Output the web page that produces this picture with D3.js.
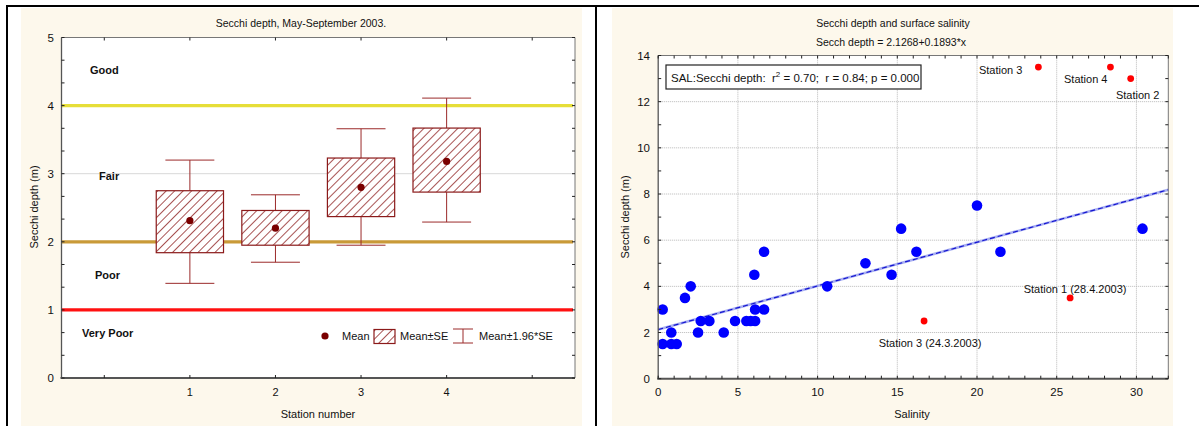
<!DOCTYPE html>
<html><head><meta charset="utf-8">
<script src="https://cdn.jsdelivr.net/npm/d3@7"></script>
<style>
html,body{margin:0;padding:0;background:#fff;}
text{font-family:"Liberation Sans",Arial,sans-serif;fill:#111;white-space:pre;}
</style></head>
<body>
<script>
// ---------- data: left chart ----------
const stations = [1, 2, 3, 4];
const means   = [2.31, 2.20, 2.80, 3.18];
const seLow   = [1.84, 1.95, 2.37, 2.73];
const seHigh  = [2.75, 2.46, 3.23, 3.67];
const ciLow   = [1.39, 1.70, 1.95, 2.29];
const ciHigh  = [3.20, 2.69, 3.66, 4.11];
const thresholdValues = [4, 2, 1];
const qualityLabels = ["Good", "Fair", "Poor", "Very Poor"];
const leftYTicks = [0, 1, 2, 3, 4, 5];
const leftXTickLabels = ["1", "2", "3", "4"];
const legendLabels = ["Mean", "Mean±SE", "Mean±1.96*SE"];

// ---------- data: right chart ----------
const salinity = [0.28,0.28,0.82,0.82,1.16,1.68,2.04,2.5,2.67,3.21,4.11,4.82,5.53,5.8,6.08,6.08,6.64,6.03,6.64,10.6,13.0,14.64,15.24,16.2,20.0,21.47,30.38];
const secchi   = [1.5,3.0,2.0,1.5,1.5,3.5,4.0,2.0,2.5,2.5,2.0,2.5,2.5,2.5,2.5,3.0,3.0,4.5,5.5,4.0,5.0,4.5,6.5,5.5,7.5,5.5,6.5];
const outlierSalinity = [23.85, 28.37, 29.64, 25.84, 16.68];
const outlierSecchi   = [13.5, 13.5, 13.0, 3.5, 2.5];
const outlierLabels   = ["Station 3", "Station 4", "Station 2", "Station 1 (28.4.2003)", "Station 3 (24.3.2003)"];
const regIntercept = 2.1268, regSlope = 0.1893;
const rightXTicks = [0, 5, 10, 15, 20, 25, 30];
const rightYTicks = [0, 2, 4, 6, 8, 10, 12, 14];

// ---------- layout / styles ----------
const W = 1199, H = 426;
const cream = "#fdf8ec";
const boxColor = "#8b1a1a";
const thresholdColors = ["#e6de38", "#c99a38", "#ff1010"];
const qualityPos = [4.47, 2.91, 1.45, 0.60];
const qualityX = [90, 99, 95, 82];
const outlierOffsets = [[-16, 7, "end"], [-3, 16, "end"], [7, 20, "middle"], [5, -5, "middle"], [6, 26, "middle"]];

const svg = d3.select("body").append("svg").attr("width", W).attr("height", H);
svg.append("rect").attr("width", W).attr("height", H).attr("fill", "#fff");

// panels
svg.append("rect").attr("x", 21).attr("y", 8).attr("width", 561).attr("height", H - 8).attr("fill", cream);
svg.append("rect").attr("x", 612).attr("y", 8).attr("width", 561).attr("height", H - 8).attr("fill", cream);
// outer borders
svg.append("line").attr("x1", 6).attr("x2", W).attr("y1", 6).attr("y2", 6).attr("stroke", "#000").attr("stroke-width", 2);
svg.append("line").attr("x1", 7).attr("x2", 7).attr("y1", 5).attr("y2", H).attr("stroke", "#000").attr("stroke-width", 2);
svg.append("line").attr("x1", 596).attr("x2", 596).attr("y1", 5).attr("y2", H).attr("stroke", "#000").attr("stroke-width", 2);

const defs = svg.append("defs");
const pat = defs.append("pattern").attr("id", "hatch").attr("patternUnits", "userSpaceOnUse")
  .attr("width", 6).attr("height", 6).attr("patternTransform", "rotate(45)");
pat.append("rect").attr("width", 6).attr("height", 6).attr("fill", "#fff");
pat.append("line").attr("x1", 0).attr("y1", 0).attr("x2", 0).attr("y2", 6).attr("stroke", boxColor).attr("stroke-width", 1.5);

function frame(g, x0, x1, y0, y1) {
  g.append("rect").attr("x", x0).attr("y", y1).attr("width", x1 - x0).attr("height", y0 - y1).attr("fill", "#fff");
}
function border(g, x0, x1, y0, y1) {
  g.append("line").attr("x1", x0).attr("x2", x1).attr("y1", y1).attr("y2", y1).attr("stroke", "#777").attr("stroke-width", 1);
  g.append("line").attr("x1", x1).attr("x2", x1).attr("y1", y1).attr("y2", y0).attr("stroke", "#777").attr("stroke-width", 1);
  g.append("line").attr("x1", x0).attr("x2", x0).attr("y1", y1).attr("y2", y0).attr("stroke", "#555").attr("stroke-width", 1.3);
  g.append("line").attr("x1", x0 - 1).attr("x2", x1).attr("y1", y0).attr("y2", y0).attr("stroke", "#555").attr("stroke-width", 2);
}
function ticks(g, xs, ys, xVals, yVals, len) {
  const [x0, x1] = xs.range(), [y0, y1] = ys.range();
  xVals.forEach(v => {
    g.append("line").attr("x1", xs(v)).attr("x2", xs(v)).attr("y1", y0).attr("y2", y0 - len).attr("stroke", "#222");
    g.append("line").attr("x1", xs(v)).attr("x2", xs(v)).attr("y1", y1).attr("y2", y1 + len).attr("stroke", "#222");
  });
  yVals.forEach(v => {
    g.append("line").attr("x1", x0).attr("x2", x0 + len).attr("y1", ys(v)).attr("y2", ys(v)).attr("stroke", "#222");
    g.append("line").attr("x1", x1).attr("x2", x1 - len).attr("y1", ys(v)).attr("y2", ys(v)).attr("stroke", "#222");
  });
}

// ================= LEFT CHART =================
const L = svg.append("g");
const xL = d3.scaleLinear().domain([-0.5, 5.5]).range([61.5, 575]);
const yL = d3.scaleLinear().domain([0, 5]).range([378, 37.5]);
frame(L, 61.5, 575, 378, 37.5);
leftYTicks.forEach(v => L.append("line").attr("x1", xL(-0.5)).attr("x2", xL(5.5)).attr("y1", yL(v)).attr("y2", yL(v))
  .attr("stroke", "#b0b0b0").attr("stroke-dasharray", "1,1"));
thresholdValues.forEach((v, i) => L.append("line").attr("x1", xL(-0.5)).attr("x2", xL(5.5) - 2).attr("y1", yL(v)).attr("y2", yL(v))
  .attr("stroke", thresholdColors[i]).attr("stroke-width", 3.2));
qualityLabels.forEach((t, i) => L.append("text").attr("x", qualityX[i]).attr("y", yL(qualityPos[i])).attr("font-size", 11).attr("font-weight", "bold").text(t));

const half = 0.393, cap = 0.286;
stations.forEach((s, i) => {
  const g = L.append("g");
  const wc = "#9b2a2a";
  g.append("line").attr("x1", xL(s)).attr("x2", xL(s)).attr("y1", yL(ciHigh[i])).attr("y2", yL(seHigh[i])).attr("stroke", wc);
  g.append("line").attr("x1", xL(s)).attr("x2", xL(s)).attr("y1", yL(seLow[i])).attr("y2", yL(ciLow[i])).attr("stroke", wc);
  g.append("line").attr("x1", xL(s - cap)).attr("x2", xL(s + cap)).attr("y1", yL(ciHigh[i])).attr("y2", yL(ciHigh[i])).attr("stroke", wc);
  g.append("line").attr("x1", xL(s - cap)).attr("x2", xL(s + cap)).attr("y1", yL(ciLow[i])).attr("y2", yL(ciLow[i])).attr("stroke", wc);
  g.append("rect").attr("x", xL(s - half)).attr("y", yL(seHigh[i])).attr("width", xL(s + half) - xL(s - half))
    .attr("height", yL(seLow[i]) - yL(seHigh[i])).attr("fill", "url(#hatch)").attr("stroke", boxColor).attr("stroke-width", 1.2);
  g.append("circle").attr("cx", xL(s)).attr("cy", yL(means[i])).attr("r", 3.6).attr("fill", "#7a0000");
});

border(L, 61.5, 575, 378, 37.5);
ticks(L, xL, yL, d3.range(0, 6), d3.range(0, 16).map(k => k / 3), 3);

leftYTicks.forEach(v => L.append("text").attr("x", 54).attr("y", yL(v) + 4).attr("text-anchor", "end").attr("font-size", 11.5).text(v));
stations.forEach((s, i) => L.append("text").attr("x", xL(s)).attr("y", 396).attr("text-anchor", "middle").attr("font-size", 11).text(leftXTickLabels[i]));
L.append("text").attr("x", 301).attr("y", 27).attr("text-anchor", "middle").attr("font-size", 10.5).text("Secchi depth, May-September 2003.");
L.append("text").attr("x", 318).attr("y", 418).attr("text-anchor", "middle").attr("font-size", 11).text("Station number");
L.append("text").attr("transform", "translate(38,207) rotate(-90)").attr("text-anchor", "middle").attr("font-size", 11).text("Secchi depth (m)");

const lg = L.append("g");
const ly = 336;
lg.append("circle").attr("cx", 325).attr("cy", ly).attr("r", 3.6).attr("fill", "#7a0000");
lg.append("text").attr("x", 342).attr("y", ly + 4).attr("font-size", 11).text(legendLabels[0]);
lg.append("rect").attr("x", 374).attr("y", ly - 6.5).attr("width", 21).attr("height", 14).attr("fill", "url(#hatch)").attr("stroke", boxColor).attr("stroke-width", 1.2);
lg.append("text").attr("x", 400).attr("y", ly + 4).attr("font-size", 11).text(legendLabels[1]);
lg.append("line").attr("x1", 463).attr("x2", 463).attr("y1", ly - 7).attr("y2", ly + 7).attr("stroke", "#9b2a2a");
lg.append("line").attr("x1", 453).attr("x2", 473).attr("y1", ly - 7).attr("y2", ly - 7).attr("stroke", "#9b2a2a");
lg.append("line").attr("x1", 453).attr("x2", 473).attr("y1", ly + 7).attr("y2", ly + 7).attr("stroke", "#9b2a2a");
lg.append("text").attr("x", 479).attr("y", ly + 4).attr("font-size", 11).text(legendLabels[2]);

// ================= RIGHT CHART =================
const R = svg.append("g");
const xR = d3.scaleLinear().domain([0, 32]).range([658.2, 1168.3]);
const yR = d3.scaleLinear().domain([0, 14]).range([378.7, 55.5]);
frame(R, 658.2, 1168.3, 378.7, 55.5);
rightXTicks.slice(1).forEach(v => R.append("line").attr("x1", xR(v)).attr("x2", xR(v)).attr("y1", yR(0)).attr("y2", yR(14))
  .attr("stroke", "#b8b8b8").attr("stroke-dasharray", "1,1"));
rightYTicks.slice(1).forEach(v => R.append("line").attr("x1", xR(0)).attr("x2", xR(32)).attr("y1", yR(v)).attr("y2", yR(v))
  .attr("stroke", "#b8b8b8").attr("stroke-dasharray", "1,1"));

const reg = d3.line().x(d => xR(d)).y(d => yR(regIntercept + regSlope * d));
R.append("path").attr("d", reg([0, 32])).attr("stroke", "#a9b0f2").attr("stroke-width", 2.6).attr("fill", "none");
R.append("path").attr("d", reg([0, 32])).attr("stroke", "#1515d0").attr("stroke-width", 1.2).attr("stroke-dasharray", "5,3").attr("fill", "none");

salinity.forEach((s, i) => R.append("circle").attr("cx", xR(s)).attr("cy", yR(secchi[i])).attr("r", 5.3).attr("fill", "#0000ff"));
outlierSalinity.forEach((s, i) => {
  R.append("circle").attr("cx", xR(s)).attr("cy", yR(outlierSecchi[i])).attr("r", 3.4).attr("fill", "#ff0000");
  const o = outlierOffsets[i];
  R.append("text").attr("x", xR(s) + o[0]).attr("y", yR(outlierSecchi[i]) + o[1]).attr("text-anchor", o[2]).attr("font-size", 11).text(outlierLabels[i]);
});

border(R, 658.2, 1168.3, 378.7, 55.5);
ticks(R, xR, yR, d3.range(0, 33), d3.range(0, 15), 3);

rightYTicks.forEach(v => R.append("text").attr("x", 650).attr("y", yR(v) + 4).attr("text-anchor", "end").attr("font-size", 11.5).text(v));
rightXTicks.forEach(v => R.append("text").attr("x", xR(v)).attr("y", 396).attr("text-anchor", "middle").attr("font-size", 11.5).text(v));
R.append("text").attr("x", 893).attr("y", 27).attr("text-anchor", "middle").attr("font-size", 10.5).text("Secchi depth and surface salinity");
R.append("text").attr("x", 891).attr("y", 45.5).attr("text-anchor", "middle").attr("font-size", 10.5).text("Secch depth = 2.1268+0.1893*x");
R.append("text").attr("x", 912).attr("y", 418).attr("text-anchor", "middle").attr("font-size", 11).text("Salinity");
R.append("text").attr("transform", "translate(629,217) rotate(-90)").attr("text-anchor", "middle").attr("font-size", 11).text("Secchi depth (m)");

R.append("rect").attr("x", 666).attr("y", 65).attr("width", 255).attr("height", 24).attr("fill", "#fff").attr("stroke", "#222").attr("stroke-width", 1.2);
const st = R.append("text").attr("x", 671).attr("y", 81.5).attr("font-size", 11.5);
st.append("tspan").text("SAL:Secchi depth:  r");
st.append("tspan").attr("dy", -5).attr("font-size", 8).text("2");
st.append("tspan").attr("dy", 5).text(" = 0.70;  r = 0.84; p = 0.000");
</script>
</body></html>
